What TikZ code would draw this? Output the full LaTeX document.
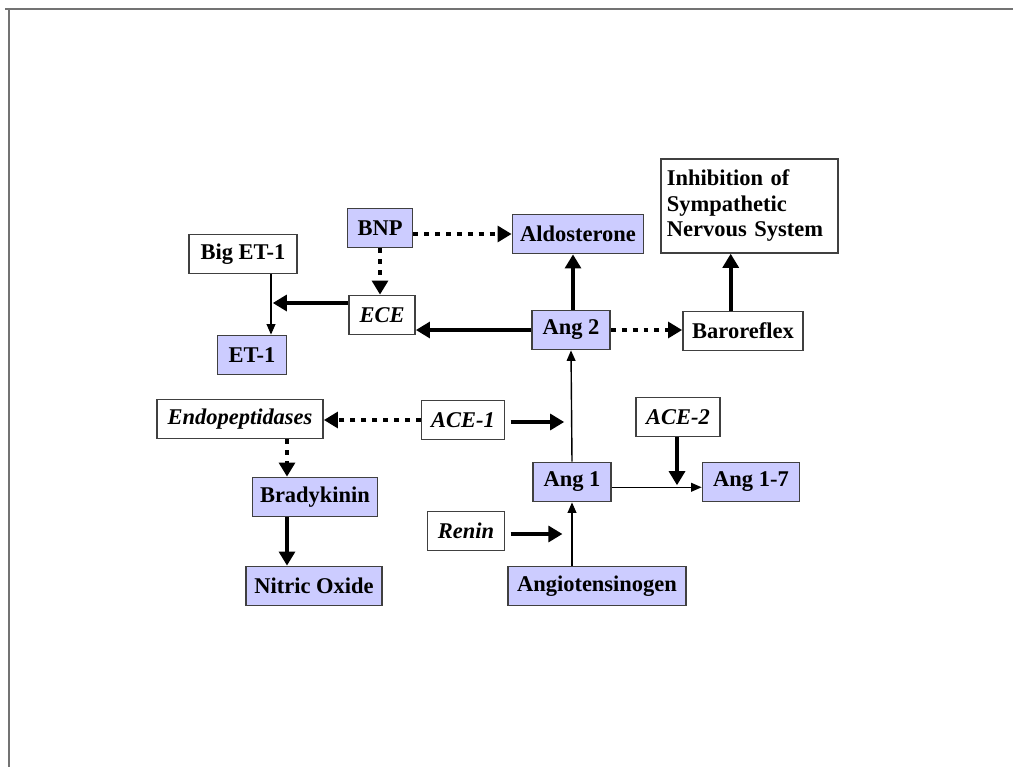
\documentclass[tikz,border=0pt]{standalone}
\usepackage{fontspec}
\setmainfont{Liberation Serif}
\usepackage{xcolor}
\colorlet{FilledBox}{rgb,255:red,204;green,204;blue,255}
\colorlet{BoxBorder}{black!75}
\colorlet{FrameLine}{black!55}
\usetikzlibrary{arrows.meta}

\tikzset{
  plainbox/.style={draw=BoxBorder, line width=1pt, fill=white, minimum height=0.78cm,
    inner sep=2pt, font=\fontsize{12.8}{14.5}\selectfont\bfseries},
  filledbox/.style={plainbox, fill=FilledBox},
  thickarrow/.style={line width=2.4pt, -{Triangle[length=8pt,width=9pt]}},
  dottedarrow/.style={line width=2.8pt, dash pattern=on 2.8pt off 3.4pt,
    -{Triangle[length=8pt,width=9pt]}},
  thinarrow/.style={line width=0.8pt, -{Triangle[length=6pt,width=5pt]}}
}

\begin{document}
\begin{tikzpicture}[x=0.02cm, y=-0.02cm]

\useasboundingbox (0, 0) rectangle (1013, 767);
\draw[FrameLine, line width=1.2pt] (5, 9) -- (1013, 9);
\draw[FrameLine, line width=1.2pt] (9, 9) -- (9, 767);

% Cajas
\node[filledbox, minimum width=1.30cm] (BNP) at (380, 228) {BNP};
\node[filledbox, minimum width=2.62cm] (Aldo) at (578, 234) {Aldosterone};
\node[plainbox, minimum width=3.54cm, minimum height=1.88cm, align=left,
      text width=3.3cm, anchor=north west] (Inhib) at (660, 158)
      {Inhibition of\\Sympathetic\\Nervous System};
\node[plainbox, minimum width=2.16cm] (BigET) at (243, 254) {Big ET-1};
\node[plainbox, minimum width=1.32cm] (ECE) at (382, 315) {\itshape ECE};
\node[filledbox, minimum width=1.56cm] (AngTwo) at (571, 330) {Ang 2};
\node[plainbox, minimum width=2.40cm] (Baro) at (743, 331) {Baroreflex};
\node[filledbox, minimum width=1.38cm] (ETOne) at (252, 355) {ET-1};
\node[plainbox, minimum width=3.32cm] (Endo) at (240, 419) {\itshape Endopeptidases};
\node[plainbox, minimum width=1.66cm] (ACEOne) at (463, 420) {\itshape ACE-1};
\node[plainbox, minimum width=1.68cm] (ACETwo) at (678, 417) {\itshape ACE-2};
\node[filledbox, minimum width=1.56cm] (AngOne) at (572, 482) {Ang 1};
\node[filledbox, minimum width=1.94cm] (AngSeven) at (751, 482) {Ang 1-7};
\node[filledbox, minimum width=2.50cm] (Brady) at (315, 497) {Bradykinin};
\node[plainbox, minimum width=1.54cm] (Renin) at (466, 531) {\itshape Renin};
\node[filledbox, minimum width=2.72cm] (NO) at (314, 586) {Nitric Oxide};
\node[filledbox, minimum width=3.56cm] (Agt) at (597, 586) {Angiotensinogen};

% Puntos de union sobre las lineas finas
\coordinate (etx) at (271, 0);
\coordinate (bkx) at (287, 0);
\coordinate (eceJoin) at (271, 303);
\coordinate (aceOneJoin) at (573, 422);
\coordinate (reninJoin) at (573, 534);
\coordinate (aceTwoJoin) at (677, 487);

% Lineas finas
\draw[thinarrow] (BigET.south -| etx) -- (ETOne.north -| etx);
\draw[thinarrow] (AngOne.south |- Agt.north) -- (AngOne.south);
\draw[thinarrow] (AngOne.north) -- (AngTwo.south);
\draw[thinarrow] ([yshift=-3pt]AngOne.east) -- ([yshift=-3pt]AngSeven.west);

% Flechas gruesas
\draw[thickarrow, shorten >=1pt] (ECE.west |- eceJoin) -- (eceJoin);
\draw[thickarrow] (AngTwo.west) -- (AngTwo.west -| ECE.east);
\draw[thickarrow] (AngTwo.north -| aceOneJoin) -- (aceOneJoin |- Aldo.south);
\draw[thickarrow] ([xshift=-7pt]Baro.north) -- ([xshift=-7pt]Baro.north |- Inhib.south);
\draw[thickarrow, shorten <=3pt, shorten >=5pt] (ACEOne.east |- aceOneJoin) -- (aceOneJoin);
\draw[thickarrow, shorten <=3pt, shorten >=6pt] (Renin.east |- reninJoin) -- (reninJoin);
\draw[thickarrow, shorten >=1pt] (ACETwo.south -| aceTwoJoin) -- (aceTwoJoin);
\draw[thickarrow] (Brady.south -| bkx) -- (NO.north -| bkx);

% Flechas punteadas
\draw[dottedarrow] (BNP.east |- Aldo.west) -- (Aldo.west);
\draw[dottedarrow] (BNP.south) -- (BNP.south |- ECE.north);
\draw[dottedarrow] (AngTwo.east) -- (AngTwo.east -| Baro.west);
\draw[dottedarrow] (ACEOne.west) -- (ACEOne.west -| Endo.east);
\draw[dottedarrow] (Endo.south -| bkx) -- (Brady.north -| bkx);

\end{tikzpicture}
\end{document}
